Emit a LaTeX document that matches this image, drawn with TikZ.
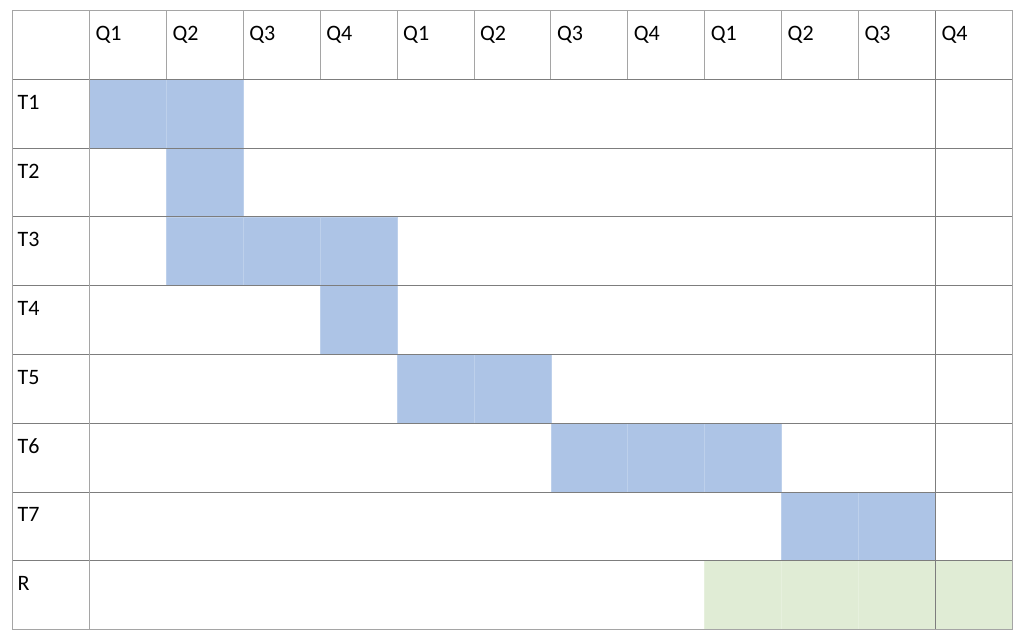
\documentclass[tikz,border=0pt]{standalone}
\usepackage{fontspec}
\setmainfont{Carlito}
\definecolor{taskblue}{RGB}{173,196,230}
\definecolor{relgreen}{RGB}{224,236,213}
\definecolor{gridgray}{RGB}{165,165,165}
\definecolor{rulegray}{RGB}{125,125,125}
\tikzset{
  cell/.style={anchor=base west, inner sep=0pt, font=\fontsize{22}{26}\selectfont},
  bar/.style={fill=#1, draw=#1!80!white, line width=0.6pt},
}
\begin{document}
\begin{tikzpicture}[x=1pt,y=-1pt]
    \useasboundingbox (0,0) rectangle (1024,644);

    % Shading
    \foreach \r/\c in {1/1,1/2,2/2,3/2,3/3,3/4,4/4,5/5,5/6,6/7,6/8,6/9,7/10,7/11}
        \filldraw[bar=taskblue] ({12.5+76.9*\c},{10.5+68.78*\r}) rectangle ++(76.9,68.78);
    \foreach \c in {9,...,12}
        \filldraw[bar=relgreen] ({12.5+76.9*\c},{10.5+68.78*8}) rectangle ++(76.9,68.78);

    % Grid
    \foreach \k in {1,...,8}
        \draw[rulegray, line width=0.8pt] (12.5,{10.5+68.78*\k}) -- (1012.2,{10.5+68.78*\k});
    \foreach \c in {2,...,11}
        \draw[gridgray, line width=0.8pt] ({12.5+76.9*\c},10.5) -- ({12.5+76.9*\c},79.3);
    \draw[gridgray, line width=0.8pt] (89.4,10.5) -- (89.4,629.5);
    \draw[rulegray, line width=0.8pt] (935.3,10.5) -- (935.3,629.5);
    \draw[gridgray, line width=0.8pt] (12.5,10.5) rectangle (1012.2,629.5);

    \foreach \c [evaluate=\c as \q using {int(mod(\c-1,4)+1)}] in {1,...,12}
        \node[cell] (head\c) at ({18.5+76.9*\c},40.5) {Q\q};
    \foreach \t [count=\r] in {T1,T2,T3,T4,T5,T6,T7,R}
        \node[cell] (task\r) at (17.5,{40.5+68.78*\r}) {\t};
\end{tikzpicture}
\end{document}
